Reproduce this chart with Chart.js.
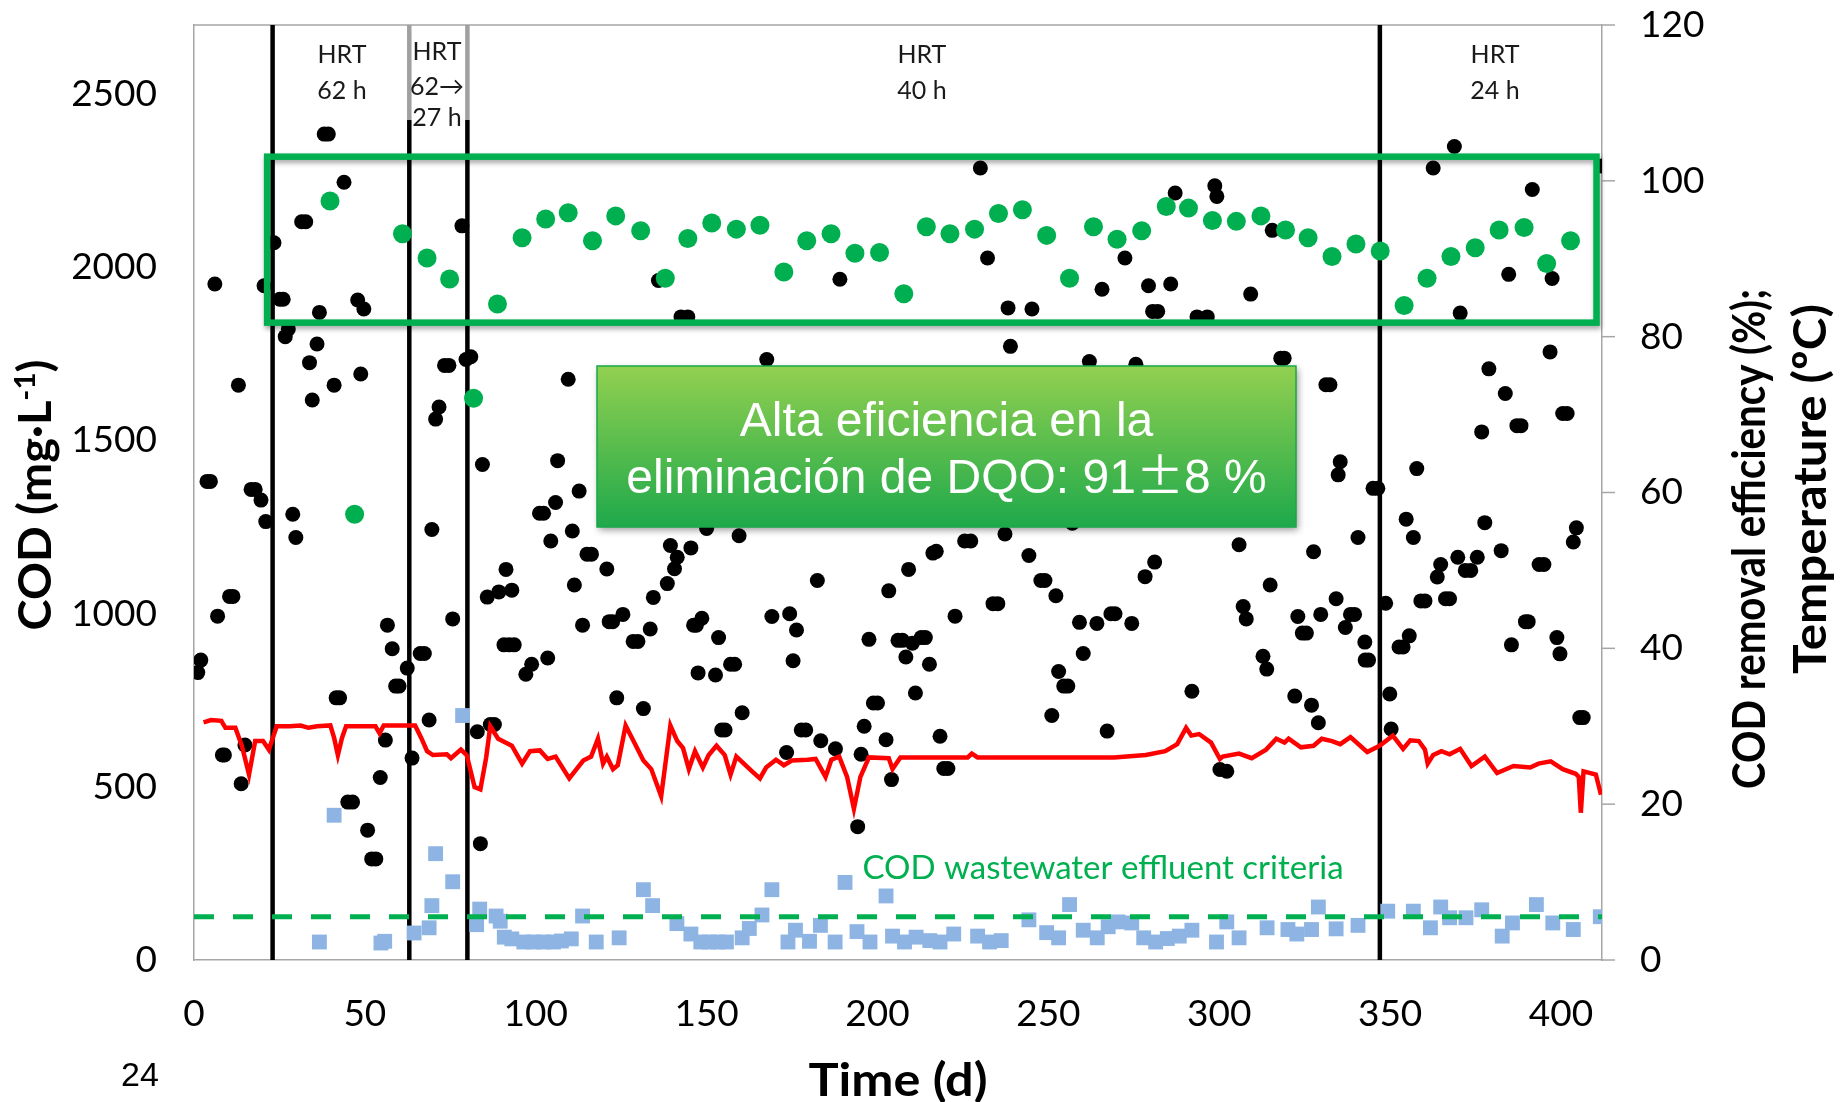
<!DOCTYPE html>
<html>
<head>
<meta charset="utf-8">
<script src="https://cdn.jsdelivr.net/npm/chart.js@4.4.1/dist/chart.umd.min.js"></script>
<style>
html,body{margin:0;padding:0;background:#fff;}
canvas{display:block;}
</style>
</head>
<body>
<canvas id="c" width="1847" height="1102" style="width:1847px;height:1102px"></canvas>
<script>
// ===== DATA =====
const X_MAX=412, COD_MAX=2700, RIGHT_MAX=120;
const X_TICKS=[0,50,100,150,200,250,300,350,400];
const COD_TICKS=[0,500,1000,1500,2000,2500];
const RIGHT_TICKS=[0,20,40,60,80,100,120];

// influent COD (black dots), mg/L
const INF_DAY=[1.1,2.0,3.8,4.8,6.1,6.9,8.3,8.9,10.4,11.4,13,13.8,14.9,16.7,17.9,19.6,20.5,21,23.4,25.1,26.1,26.7,27.6,28.9,29.8,31.5,32.7,33.8,34.6,36,36.7,38.1,39.3,41,41.6,42.6,43.9,45,46.4,47.9,48.8,49.7,50.8,52,53.2,54.5,56,56.6,58,59,60,62.4,63.8,66.2,67.4,68.8,69.6,70.7,71.7,73.3,74.6,75.7,78.4,79.6,81,82.9,83.8,84.4,85.8,86.7,87.9,89.2,90.7,91.3,92.2,93,93.7,97.1,98.8,101.1,102.3,103.5,104.4,105.8,106.4,109.5,110.7,111.3,112.7,113.7,115,116.3,120.8,121.5,122.5,123.7,125.5,128.5,129.9,131.5,133.5,134.4,135.9,138.5,139.4,140.6,141.4,142.5,144.5,145.4,146.2,147,147.5,148.6,150,152.6,153.5,154.4,155.4,157,158.2,159.5,160.4,167.6,169.1,173.4,174.3,175.3,176.3,177.7,179,182.4,183.4,187.7,189,194.2,195.2,196.1,197.5,198.8,200,202.5,203.3,204.1,206,207.3,208.3,209.1,210.2,211.1,212.8,214,215.2,216.2,217.2,218.3,219.4,220.6,222.7,225.5,227.3,230.1,232.2,233.8,235.2,237.3,238.2,238.9,244.3,245.2,247.8,249,251,252.2,253,254.5,255.7,257,259.1,260.2,262,264.2,265.7,267.2,268.3,269.5,272.4,274.4,275.6,278.3,279.3,280.5,281.1,282,285.8,287.1,292,293.5,296.5,298.7,299.3,300.2,302.2,305.8,307,307.9,309.2,312.8,313.9,314.9,315.5,318,319,322.1,323,324.3,325.5,327,327.6,329,329.7,331.2,332.4,334.2,334.8,335.4,336.9,338.4,339.6,340.6,342.6,342.7,343.7,345,346.4,348.7,349.9,350.3,352.6,353.8,354.7,355.6,356.8,357.8,359,360.2,362.6,363.8,364.8,366.2,367.4,368.8,369.8,370.5,372,373.6,375.5,376.8,377.7,378.9,382.5,383.7,384.7,385.5,387.1,388.3,389.6,390.4,391.6,393.6,395,396.8,397.4,398.8,399.7,400.5,401.8,403.6,404.5,405.5,406.5,412];
const INF_COD=[830,866,1382,1382,1952,993,592,592,1050,1050,1660,509,621,1359,1359,1328,1947,1266,2071,1908,1908,1800,1822,1287,1220,2132,2132,1725,1617,1779,1870,2385,2385,1660,757,757,2246,456,456,1906,1692,1880,375,292,292,527,635,967,899,791,791,843,583,885,885,693,1243,1562,1597,1717,1717,985,2120,1734,1742,659,336,1431,1048,680,680,1063,910,1128,910,1068,910,825,854,1290,1290,872,1210,1321,1442,1677,1239,1083,1354,967,1172,1172,1129,977,977,757,998,920,920,726,956,1047,1962,1087,1197,1130,1163,1857,1857,1190,967,967,829,987,1246,823,931,664,664,854,854,1225,714,1734,992,599,1000,864,953,664,664,1096,633,610,1966,385,594,675,926,742,742,636,1066,521,923,923,875,1128,915,771,931,931,854,1175,1180,646,553,553,993,1210,1210,2287,2027,1029,1029,1230,1883,1772,1168,1880,1096,1096,706,1052,833,791,791,1261,975,885,1728,972,1937,661,1000,1000,2027,972,1720,1107,1947,1873,1149,1873,1952,2215,776,1857,1857,2236,2205,550,545,1199,1021,985,1923,877,840,1083,2107,1738,1738,762,992,944,944,736,1179,685,998,1661,1661,1043,1401,1439,960,998,998,1220,918,866,866,1362,1362,1030,768,667,904,904,1273,936,1220,1419,1037,1037,2287,1106,1142,1043,1043,2349,1163,1868,1125,1125,1163,1525,1263,1707,1182,1636,1980,910,1543,1543,977,977,2225,1142,1142,1756,1968,931,884,1578,1578,1207,1248,700,700,2293];

// effluent COD (blue squares), mg/L
const EFF_DAY=[36.7,41,54.7,55.8,64.4,68.8,69.6,70.7,75.7,78.6,82.7,83.6,88.4,89.6,90.8,93,96.5,99.4,102.3,105.2,107.5,110.4,113.7,117.7,124.4,131.5,134.2,141.3,145.4,148.3,150.8,153.3,155.8,160.4,162.5,166.2,169.1,173.8,176,180.1,183.3,187.6,190.5,194,197.8,202.5,204.4,207.9,211.3,215.3,218.3,222.3,229.3,232.8,236.2,244.3,249.5,253,256.2,260.2,264.3,267.5,270.4,274.4,277.9,281.4,284.8,288.3,292,299.2,302.2,305.8,314,320.1,322.7,327,329,334.2,340.6,349.3,356.8,361.8,364.8,367.4,372.2,376.8,382.8,385.8,392.8,397.6,403.6,411.5];
const EFF_COD=[52,418,49,54,78,93,157,307,226,706,102,147,127,112,66,61,52,52,52,52,55,61,127,52,64,203,157,105,75,52,52,52,52,64,91,130,203,52,86,54,100,52,224,82,52,185,69,52,66,56,52,75,69,52,56,116,79,64,160,86,64,96,110,107,64,52,62,69,86,52,110,64,93,88,75,88,153,90,100,141,141,93,153,122,122,145,69,107,160,107,88,125];

// COD removal efficiency (green dots), %
const REM_DAY=[39.8,47,61,68.2,74.8,81.8,88.8,96,102.9,109.5,116.6,123.4,130.7,137.9,144.5,151.5,158.7,165.6,172.6,179.3,186.4,193.4,200.6,207.7,214.3,221.2,228.4,235.4,242.4,249.5,256.2,263.2,270.1,277.3,284.5,291,298,305,312.2,319.4,326,333,340,347.1,354.1,360.8,367.8,374.9,381.9,389.2,395.8,402.8];
const REM_PCT=[97.4,57.2,93.2,90.1,87.4,72.1,84.2,92.7,95.1,95.9,92.3,95.5,93.6,87.5,92.6,94.6,93.8,94.3,88.3,92.3,93.2,90.7,90.8,85.5,94.1,93.2,93.8,95.8,96.3,93.0,87.5,94.1,92.5,93.6,96.7,96.5,94.9,94.8,95.5,93.7,92.7,90.3,91.9,91.0,84.0,87.5,90.3,91.4,93.7,94.0,89.4,92.3];

// temperature (red line), ºC
const TEMP_DAY=[2.8,5,8,9.2,12.1,14,16.1,17.9,20.2,21.9,24.2,28,31.2,33.5,36,39.9,41,42.1,43.3,44.5,53.1,54.3,55.5,64.7,66.5,68.2,69.9,74,75.2,78.1,79.8,82.1,83.8,85.5,86.7,89,93,96,98.3,101.2,103.5,105.8,109.8,113.9,116.2,118.2,119.7,120.8,122.6,124,126.3,131.5,133.8,136.7,139.4,141.4,143.1,144.8,146.6,148.9,150.6,152.9,155.3,157,158.7,163.3,165.6,167.4,170.3,172.6,174.9,179.5,181.9,184.8,186.5,188.8,191.1,193.1,195,197.5,203.3,204.4,206.7,226.4,227.6,229.3,269.2,278.5,284.2,287.7,290.3,291.8,294.1,297.6,300.2,301,305.8,309.5,313.7,316.7,319.1,320.3,323.9,327.6,330,333,335.4,338.4,343.3,346.9,350.8,353.8,355.9,358.4,360.2,361,362.6,365,367.4,370.5,373.8,377.7,381.3,386.1,391,393.4,397,400.5,404.3,405.2,405.8,406.6,410.2,411.7];
const TEMP_C=[30.5,30.8,30.7,29.8,29.8,27.5,23.8,28.1,28.1,27.0,30.0,30.0,30.1,29.8,30.0,30.1,28.5,26.3,28.5,30.0,30.0,29.1,30.1,30.1,28.5,26.8,26.3,26.4,25.9,27.0,26.3,22.2,21.9,26,30.0,28.4,27.5,25.2,26.8,26.9,25.8,26.1,23.3,25.6,26.1,28.4,25.2,26.1,24.5,25.0,30.1,25.6,24.5,21.0,30.1,28.1,27.2,24.5,26.8,24.7,26.3,27.5,26.3,23.8,26.1,24.2,23.3,24.7,25.7,25.0,25.6,25.7,25.8,23.5,25.7,26.1,23.5,19.4,23.5,26.0,25.9,24.5,26.0,26.0,26.5,26.0,26.0,26.3,26.8,27.7,29.8,28.8,29.0,27.9,25.8,26.1,26.5,25.9,27.0,28.4,27.9,28.4,27.3,27.5,28.4,28.1,27.7,28.6,26.7,27.5,28.8,27.1,28.2,28.1,27.0,25.2,26.3,26.8,26.4,27.1,24.9,26.1,24.0,24.9,24.7,25.2,25.5,24.5,23.9,23.5,18.9,24.2,23.8,21.2];

// effluent criteria (dashed line)
const CRIT_DAY=[0,412];
const CRIT_COD=[125,125];

// HRT phases
const PHASE_DAYS=[23,63,80,347];
const HRT_TEXT=[['HRT','62 h'],['HRT','62\u2192','27 h'],['HRT','40 h'],['HRT','24 h']];
// highlighted efficiency band (days, %)
const BAND_DAYS=[21.4,410.4];
const BAND_PCT=[81.8,103.1];

const AXIS_GRAY='#a6a6a6';
const pts=(xs,ys)=>xs.map((x,i)=>({x,y:ys[i]}));
const fixedTicks=arr=>s=>{s.ticks=arr.map(v=>({value:v}))};

// ===== OVERLAY (annotations drawn on top of the chart) =====
// draws text pieces centred on (cx,cy); rot=-90deg for vertical titles; fit = target run length in px
function runText(ctx,parts,cx,cy,rot,fit){
  ctx.save();ctx.translate(cx,cy);if(rot)ctx.rotate(rot);
  ctx.textAlign='left';ctx.textBaseline='alphabetic';
  let w=0;parts.forEach(p=>{ctx.font=p.font;w+=ctx.measureText(p.t).width});
  if(fit)ctx.scale(fit/w,1);
  let x=-w/2;
  parts.forEach(p=>{ctx.font=p.font;ctx.fillText(p.t,x,p.dy||0);x+=ctx.measureText(p.t).width});
  ctx.restore();
}

const overlay={
  id:'overlay',
  beforeDatasetsDraw(chart){
    const {ctx,chartArea:a,scales:{x,y2}}=chart;
    ctx.save();
    ctx.strokeStyle=AXIS_GRAY;ctx.lineWidth=1.5;
    ctx.beginPath();ctx.moveTo(a.left,a.top);ctx.lineTo(a.right,a.top);ctx.stroke();
    // outward tick marks of the right axis
    RIGHT_TICKS.forEach(v=>{
      const py=y2.getPixelForValue(v);
      ctx.beginPath();ctx.moveTo(a.right,py);ctx.lineTo(a.right+13,py);ctx.stroke();
    });
    PHASE_DAYS.forEach((d,i)=>{
      const px=x.getPixelForValue(d);
      const grayTop=(i===1||i===2);
      ctx.lineWidth=4.5;
      if(grayTop){
        ctx.strokeStyle='#a0a0a0';
        ctx.beginPath();ctx.moveTo(px,a.top);ctx.lineTo(px,120);ctx.stroke();
      }
      ctx.strokeStyle='#000';
      ctx.beginPath();ctx.moveTo(px,grayTop?120:a.top);ctx.lineTo(px,a.bottom);ctx.stroke();
    });
    ctx.restore();
  },
  afterDraw(chart){
    const {ctx,scales:{x,y2}}=chart;
    ctx.save();

    // HRT labels
    const hrtX=[43.3,71.1,213,380.7];
    ctx.fillStyle='#1a1a1a';ctx.font='25px Lato';ctx.textAlign='center';ctx.textBaseline='middle';
    HRT_TEXT.forEach((lines,i)=>{
      const px=x.getPixelForValue(hrtX[i]);
      const ys=lines.length===3?[52,87,118]:[55,91];
      lines.forEach((t,j)=>ctx.fillText(t,px,ys[j]));
    });

    // green band around the efficiency points
    const bx0=x.getPixelForValue(BAND_DAYS[0]),bx1=x.getPixelForValue(BAND_DAYS[1]);
    const by0=y2.getPixelForValue(BAND_PCT[1]),by1=y2.getPixelForValue(BAND_PCT[0]);
    ctx.save();
    ctx.shadowColor='rgba(0,0,0,0.35)';ctx.shadowBlur=5;ctx.shadowOffsetX=1;ctx.shadowOffsetY=3;
    ctx.strokeStyle='#00b050';ctx.lineWidth=6.5;
    ctx.strokeRect(bx0,by0,bx1-bx0,by1-by0);
    ctx.restore();

    // callout box
    const cx0=597,cy0=366,cw=699,ch=161;
    ctx.save();
    ctx.shadowColor='rgba(0,0,0,0.4)';ctx.shadowBlur=7;ctx.shadowOffsetX=2;ctx.shadowOffsetY=3;
    const g=ctx.createLinearGradient(0,cy0,0,cy0+ch);
    g.addColorStop(0,'#92d050');g.addColorStop(1,'#1ea94b');
    ctx.fillStyle=g;ctx.fillRect(cx0,cy0,cw,ch);
    ctx.restore();
    ctx.strokeStyle='#19a84a';ctx.lineWidth=1.5;ctx.strokeRect(cx0,cy0,cw,ch);
    ctx.fillStyle='#fff';
    const mid=cx0+cw/2;
    runText(ctx,[{t:'Alta eficiencia en la',font:'48px "Liberation Sans"'}],mid,436);
    runText(ctx,[{t:'eliminación de DQO: 91',font:'48px "Liberation Sans"'},{t:'±',font:'48px "Noto Sans CJK JP"'},{t:'8 %',font:'48px "Liberation Sans"'}],mid,493);

    // criteria label
    ctx.fillStyle='#00b050';
    runText(ctx,[{t:'COD wastewater effluent criteria',font:'33px Lato'}],1103,879);

    // axis titles
    ctx.fillStyle='#000';
    const tf='bold 46px Lato';
    runText(ctx,[{t:'COD (mg·L',font:tf},{t:'-1',font:'bold 29px Lato',dy:-16},{t:')',font:tf}],51,495,-Math.PI/2,271);
    runText(ctx,[{t:'COD removal efficiency (%);',font:tf}],1765,539,-Math.PI/2,500);
    runText(ctx,[{t:'Temperature (ºC)',font:tf}],1826,489,-Math.PI/2,370);
    runText(ctx,[{t:'Time (d)',font:tf}],898,1096,0,179);

    // slide number
    ctx.font='34px "Liberation Sans"';ctx.textAlign='left';ctx.textBaseline='middle';
    ctx.fillText('24',121,1077);
    ctx.restore();
  }
};

// ===== CHART =====
const tickFont={family:'Lato',size:37};
const plain=v=>String(v);
new Chart(document.getElementById('c').getContext('2d'),{
  type:'scatter',
  data:{datasets:[
    {label:'Temperature',data:pts(TEMP_DAY,TEMP_C),yAxisID:'y2',showLine:true,borderColor:'#ff0000',borderWidth:4.5,pointRadius:0,tension:0,order:1},
    {label:'COD removal efficiency',data:pts(REM_DAY,REM_PCT),yAxisID:'y2',backgroundColor:'#00b050',borderWidth:0,pointRadius:9.5,order:2},
    {label:'Effluent criteria',data:pts(CRIT_DAY,CRIT_COD),yAxisID:'y',showLine:true,borderColor:'#00b050',borderDash:[20,19],borderWidth:5,pointRadius:0,order:3},
    {label:'Influent COD',data:pts(INF_DAY,INF_COD),yAxisID:'y',backgroundColor:'#000',borderWidth:0,pointRadius:7.5,order:4},
    {label:'Effluent COD',data:pts(EFF_DAY,EFF_COD),yAxisID:'y',pointStyle:'rect',backgroundColor:'#8db4e2',borderWidth:0,pointRadius:10.5,order:5}
  ]},
  options:{
    responsive:false,animation:false,devicePixelRatio:1,
    layout:{padding:{top:25,left:0,right:0,bottom:0}},
    plugins:{legend:{display:false},tooltip:{enabled:false}},
    scales:{
      x:{type:'linear',position:'bottom',min:0,max:X_MAX,afterFit:s=>{s.height=142},afterBuildTicks:fixedTicks(X_TICKS),
        grid:{display:false,drawTicks:true,tickLength:32},border:{display:true,color:AXIS_GRAY,width:1.5},
        ticks:{padding:0,color:'#000',font:tickFont,maxRotation:0,autoSkip:false,callback:plain}},
      y:{type:'linear',position:'left',min:0,max:COD_MAX,afterFit:s=>{s.width=194},afterBuildTicks:fixedTicks(COD_TICKS),
        grid:{display:false,drawTicks:true,tickLength:37},border:{display:true,color:AXIS_GRAY,width:1.5},
        ticks:{padding:0,color:'#000',font:tickFont,autoSkip:false,callback:plain}},
      y2:{type:'linear',position:'right',min:0,max:RIGHT_MAX,afterFit:s=>{s.width=245},afterBuildTicks:fixedTicks(RIGHT_TICKS),
        grid:{display:false,drawTicks:true,tickLength:38},border:{display:true,color:AXIS_GRAY,width:1.5},
        ticks:{padding:0,color:'#000',font:tickFont,autoSkip:false,callback:plain}}
    }
  },
  plugins:[overlay]
});
</script>
</body>
</html>
